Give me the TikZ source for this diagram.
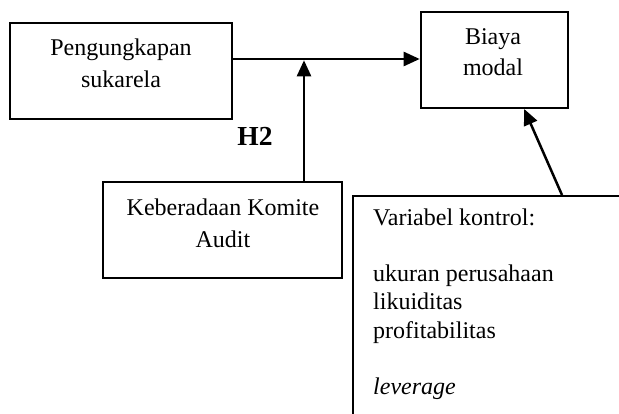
\documentclass[tikz,border=0pt]{standalone}
\usepackage{fontspec}
\setmainfont{Liberation Serif}
\usetikzlibrary{arrows.meta}
\tikzset{
  box/.style={draw=black, line width=2pt, inner sep=0pt, fill=none},
  txt/.style={inner sep=0pt, anchor=base, font=\fontsize{24}{28}\selectfont},
  arr/.style={draw=black, line width=2.5pt, -{Triangle[length=16pt,width=14pt]}}
}
\begin{document}
\begin{tikzpicture}[x=1pt,y=-1pt]
\useasboundingbox (0,0) rectangle (619,414);
\clip (0,0) rectangle (619,414);
% boxes
\node[box, minimum width=222pt, minimum height=96pt] (b1) at (121,71) {};
\node[box, minimum width=147pt, minimum height=96pt] (biaya) at (494.2,60) {};
\node[box, minimum width=239pt, minimum height=96pt] (komite) at (222.5,230) {};
\node[box, anchor=north west, minimum width=300pt, minimum height=260pt] (ctrl) at (351.5,195) {};
% texts
\node[txt] (t1a) at (121,56) {Pengungkapan};
\node[txt] (t1b) at (121,88) {sukarela};
\node[txt] (t2a) at (493,44.5) {Biaya};
\node[txt] (t2b) at (493,76) {modal};
\node[txt] (t3a) at (223,216) {Keberadaan Komite};
\node[txt] (t3b) at (223,247.5) {Audit};
\node[txt, font=\fontsize{27.5}{30}\selectfont\bfseries] (h2) at (255,146) {H2};
\node[txt, anchor=base west] (c1) at (373,226) {Variabel kontrol:};
\node[txt, anchor=base west] (c2) at (373,282) {ukuran perusahaan};
\node[txt, anchor=base west] (c3) at (373,310) {likuiditas};
\node[txt, anchor=base west] (c4) at (373,338) {profitabilitas};
\node[txt, anchor=base west] (c5) at (373,394) {\itshape leverage};
% connectors
\coordinate (j) at (304,59);
\draw[arr] (b1.east |- j) -- (biaya.west |- j);
\draw[arr] (komite.north -| j) -- ([yshift=-1.3pt]j);
\path (biaya.south) ++(30,0) coordinate (dtip);
\path (ctrl.north west) ++(210.5,0) coordinate (dfoot);
\draw[arr] (dfoot) -- (dtip);
\end{tikzpicture}
\end{document}
